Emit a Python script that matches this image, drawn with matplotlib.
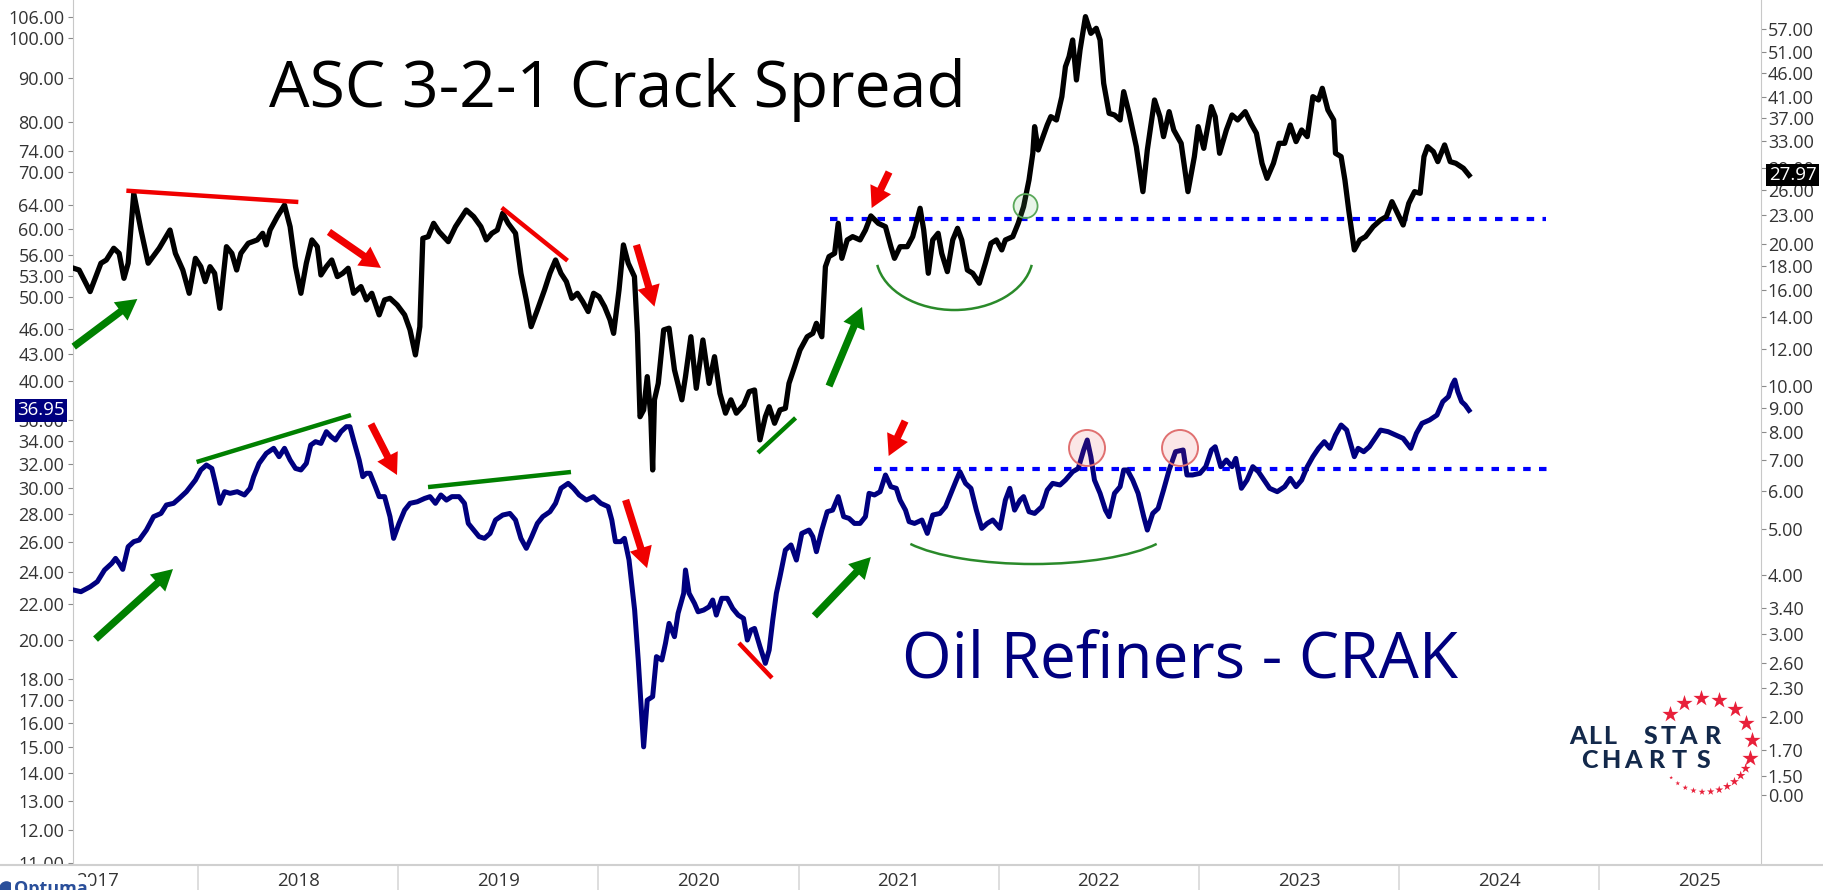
import numpy as np
import matplotlib
matplotlib.use("Agg")
import matplotlib.pyplot as plt
from matplotlib.patches import Arc, Ellipse
from matplotlib.ticker import FixedLocator, FixedFormatter, NullLocator

plt.rcParams['font.family'] = ['Open Sans', 'DejaVu Sans']

# ASC 3-2-1 crack spread (right axis), decimal years
crack_t = [2017.379, 2017.406, 2017.461, 2017.515, 2017.542, 2017.579, 2017.606, 2017.630, 2017.651, 2017.679,
           2017.715, 2017.751, 2017.806, 2017.860, 2017.887, 2017.924, 2017.956, 2017.987, 2018.014, 2018.036,
           2018.060, 2018.083, 2018.109, 2018.142, 2018.169, 2018.193, 2018.214, 2018.251, 2018.296, 2018.323,
           2018.341, 2018.360, 2018.396, 2018.432, 2018.460, 2018.487, 2018.514, 2018.541, 2018.569, 2018.596,
           2018.614, 2018.641, 2018.668, 2018.696, 2018.723, 2018.750, 2018.777, 2018.814, 2018.841, 2018.868,
           2018.905, 2018.932, 2018.959, 2018.995, 2019.032, 2019.059, 2019.086, 2019.108, 2019.123, 2019.150,
           2019.177, 2019.204, 2019.250, 2019.286, 2019.340, 2019.377, 2019.413, 2019.440, 2019.468, 2019.495,
           2019.522, 2019.549, 2019.586, 2019.613, 2019.640, 2019.664, 2019.695, 2019.731, 2019.758, 2019.786,
           2019.813, 2019.840, 2019.867, 2019.895, 2019.922, 2019.949, 2019.976, 2020.003, 2020.031, 2020.058,
           2020.076, 2020.103, 2020.125, 2020.149, 2020.180, 2020.195, 2020.208, 2020.226, 2020.244, 2020.262,
           2020.271, 2020.280, 2020.299, 2020.326, 2020.353, 2020.380, 2020.417, 2020.435, 2020.462, 2020.489,
           2020.522, 2020.553, 2020.580, 2020.607, 2020.635, 2020.662, 2020.689, 2020.726, 2020.753, 2020.780,
           2020.807, 2020.834, 2020.853, 2020.880, 2020.907, 2020.934, 2020.952, 2020.980, 2021.007, 2021.043,
           2021.071, 2021.089, 2021.116, 2021.134, 2021.152, 2021.180, 2021.198, 2021.216, 2021.243, 2021.270,
           2021.307, 2021.334, 2021.361, 2021.398, 2021.434, 2021.461, 2021.479, 2021.507, 2021.543, 2021.570,
           2021.607, 2021.625, 2021.648, 2021.670, 2021.697, 2021.715, 2021.743, 2021.770, 2021.794, 2021.815,
           2021.843, 2021.870, 2021.903, 2021.933, 2021.961, 2021.988, 2022.015, 2022.033, 2022.070, 2022.097,
           2022.124, 2022.151, 2022.170, 2022.179, 2022.197, 2022.215, 2022.242, 2022.260, 2022.288, 2022.315,
           2022.333, 2022.351, 2022.369, 2022.388, 2022.406, 2022.433, 2022.460, 2022.487, 2022.506, 2022.524,
           2022.551, 2022.578, 2022.606, 2022.624, 2022.651, 2022.687, 2022.720, 2022.742, 2022.778, 2022.805,
           2022.823, 2022.851, 2022.874, 2022.911, 2022.945, 2022.977, 2022.996, 2023.024, 2023.062, 2023.081,
           2023.103, 2023.137, 2023.165, 2023.193, 2023.231, 2023.259, 2023.287, 2023.315, 2023.340, 2023.372,
           2023.400, 2023.428, 2023.456, 2023.485, 2023.513, 2023.541, 2023.569, 2023.597, 2023.616, 2023.644,
           2023.673, 2023.682, 2023.710, 2023.729, 2023.748, 2023.776, 2023.804, 2023.832, 2023.870, 2023.907,
           2023.936, 2023.964, 2023.992, 2024.020, 2024.048, 2024.077, 2024.105, 2024.124, 2024.142, 2024.171,
           2024.193, 2024.227, 2024.255, 2024.283, 2024.321, 2024.349]
crack_v = [17.78, 17.63, 15.87, 18.22, 18.51, 19.60, 19.12, 16.93, 18.22, 25.61,
           21.42, 18.22, 19.60, 21.42, 19.12, 17.63, 15.74, 18.66, 17.92, 16.66,
           17.92, 17.35, 14.63, 19.75, 19.12, 17.63, 19.12, 20.08, 20.41, 21.08,
           19.92, 21.42, 22.86, 24.19, 21.77, 17.92, 15.74, 18.22, 20.41, 19.75,
           17.21, 17.92, 18.51, 17.07, 17.35, 17.78, 15.74, 16.26, 15.24, 15.74,
           14.17, 15.24, 15.36, 14.87, 14.17, 13.17, 11.66, 13.38, 20.57, 20.74,
           22.13, 21.25, 20.24, 21.77, 23.61, 22.86, 21.77, 20.41, 21.08, 21.42,
           23.24, 22.13, 21.08, 17.35, 15.24, 13.38, 14.51, 16.00, 17.35, 18.51,
           17.35, 16.66, 15.36, 15.74, 15.11, 14.40, 15.74, 15.49, 14.75, 13.83,
           12.95, 16.00, 19.92, 18.22, 17.07, 12.95, 8.63, 8.92, 10.49, 8.63,
           6.66, 9.37, 10.15, 13.17, 13.28, 10.84, 9.37, 10.49, 12.74, 9.91,
           12.54, 10.15, 11.56, 9.67, 8.78, 9.37, 8.78, 9.14, 9.75, 9.83,
           7.71, 8.63, 9.06, 8.36, 8.92, 8.99, 10.15, 11.01, 11.94, 12.74,
           12.95, 13.60, 12.74, 17.92, 18.82, 19.12, 22.13, 18.66, 20.41, 20.74,
           20.41, 21.42, 22.94, 22.13, 21.77, 19.75, 18.66, 19.75, 19.75, 20.74,
           23.81, 21.42, 17.35, 20.41, 21.08, 19.12, 17.49, 20.41, 21.60, 20.41,
           17.63, 17.35, 16.53, 18.22, 20.08, 20.41, 19.44, 20.41, 20.74, 22.13,
           24.00, 27.33, 31.12, 35.43, 31.63, 33.20, 35.72, 37.20, 36.60, 41.00,
           47.45, 49.82, 54.03, 44.47, 51.47, 60.53, 55.81, 57.19, 54.03, 43.75,
           37.81, 37.50, 36.60, 42.01, 37.81, 32.14, 25.82, 31.63, 40.34, 37.20,
           33.75, 38.11, 34.86, 32.67, 25.82, 30.62, 35.43, 31.88, 39.06, 37.20,
           31.12, 34.86, 37.50, 36.60, 38.11, 36.01, 34.30, 29.64, 27.55, 29.64,
           32.67, 32.67, 35.72, 32.94, 34.86, 33.75, 41.00, 40.34, 42.70, 38.43,
           36.60, 31.12, 30.62, 27.33, 23.61, 19.44, 20.41, 20.74, 21.77, 22.49,
           22.86, 24.59, 23.24, 21.95, 24.39, 25.82, 25.61, 30.62, 32.14, 31.37,
           29.88, 32.41, 29.88, 29.64, 28.93, 27.97]

# Oil Refiners ETF CRAK (left axis)
crak_t = [2017.379, 2017.415, 2017.461, 2017.497, 2017.533, 2017.569, 2017.588, 2017.606, 2017.624, 2017.651,
          2017.679, 2017.706, 2017.742, 2017.778, 2017.815, 2017.842, 2017.878, 2017.906, 2017.942, 2017.987,
          2018.014, 2018.042, 2018.069, 2018.087, 2018.109, 2018.133, 2018.160, 2018.196, 2018.232, 2018.260,
          2018.278, 2018.305, 2018.341, 2018.378, 2018.405, 2018.432, 2018.460, 2018.487, 2018.514, 2018.541,
          2018.563, 2018.587, 2018.614, 2018.641, 2018.665, 2018.687, 2018.714, 2018.741, 2018.759, 2018.777,
          2018.805, 2018.823, 2018.841, 2018.859, 2018.886, 2018.905, 2018.932, 2018.959, 2018.977, 2019.004,
          2019.032, 2019.059, 2019.095, 2019.132, 2019.159, 2019.186, 2019.213, 2019.241, 2019.268, 2019.304,
          2019.331, 2019.350, 2019.377, 2019.404, 2019.431, 2019.459, 2019.486, 2019.522, 2019.558, 2019.586,
          2019.613, 2019.640, 2019.667, 2019.695, 2019.722, 2019.758, 2019.786, 2019.813, 2019.849, 2019.876,
          2019.904, 2019.940, 2019.976, 2020.012, 2020.049, 2020.067, 2020.085, 2020.112, 2020.130, 2020.153,
          2020.181, 2020.199, 2020.226, 2020.244, 2020.271, 2020.290, 2020.317, 2020.335, 2020.353, 2020.380,
          2020.398, 2020.426, 2020.435, 2020.453, 2020.480, 2020.498, 2020.526, 2020.553, 2020.571, 2020.589,
          2020.616, 2020.644, 2020.671, 2020.698, 2020.725, 2020.744, 2020.762, 2020.780, 2020.807, 2020.834,
          2020.853, 2020.871, 2020.889, 2020.907, 2020.934, 2020.962, 2020.989, 2021.016, 2021.052, 2021.071,
          2021.089, 2021.116, 2021.143, 2021.170, 2021.198, 2021.225, 2021.252, 2021.279, 2021.307, 2021.334,
          2021.352, 2021.379, 2021.407, 2021.434, 2021.461, 2021.488, 2021.507, 2021.534, 2021.552, 2021.579,
          2021.616, 2021.643, 2021.670, 2021.706, 2021.734, 2021.761, 2021.788, 2021.806, 2021.834, 2021.861,
          2021.888, 2021.915, 2021.942, 2021.970, 2022.006, 2022.033, 2022.055, 2022.079, 2022.106, 2022.124,
          2022.151, 2022.179, 2022.215, 2022.242, 2022.269, 2022.306, 2022.333, 2022.369, 2022.397, 2022.424,
          2022.442, 2022.460, 2022.478, 2022.506, 2022.533, 2022.551, 2022.578, 2022.606, 2022.624, 2022.642,
          2022.669, 2022.696, 2022.724, 2022.742, 2022.769, 2022.796, 2022.823, 2022.851, 2022.883, 2022.921,
          2022.940, 2022.968, 2023.005, 2023.034, 2023.062, 2023.081, 2023.109, 2023.137, 2023.165, 2023.184,
          2023.212, 2023.240, 2023.269, 2023.297, 2023.325, 2023.353, 2023.391, 2023.428, 2023.456, 2023.485,
          2023.513, 2023.541, 2023.569, 2023.597, 2023.626, 2023.654, 2023.682, 2023.710, 2023.738, 2023.757,
          2023.776, 2023.795, 2023.823, 2023.851, 2023.879, 2023.907, 2023.945, 2023.983, 2024.020, 2024.058,
          2024.086, 2024.114, 2024.152, 2024.189, 2024.218, 2024.246, 2024.265, 2024.278, 2024.293, 2024.312,
          2024.330, 2024.349]
crak_v = [22.84, 22.74, 23.04, 23.36, 24.10, 24.53, 24.86, 24.53, 24.14, 25.65,
          26.00, 26.11, 26.82, 27.80, 28.04, 28.68, 28.81, 29.19, 29.72, 30.66,
          31.50, 31.92, 31.63, 30.39, 28.81, 29.72, 29.59, 29.72, 29.46, 29.99,
          30.94, 32.06, 32.93, 33.38, 32.64, 33.38, 32.35, 31.63, 31.50, 32.06,
          33.67, 33.98, 33.82, 34.90, 34.43, 34.13, 34.90, 35.37, 35.37, 34.13,
          32.35, 30.94, 31.22, 31.22, 30.12, 29.33, 29.33, 27.80, 26.23, 27.30,
          28.29, 28.81, 28.93, 29.19, 29.33, 28.81, 29.46, 29.06, 29.33, 29.33,
          28.81, 27.30, 26.82, 26.35, 26.23, 26.58, 27.55, 27.92, 28.04, 27.55,
          26.23, 25.54, 26.35, 27.30, 27.80, 28.17, 28.81, 29.99, 30.39, 29.99,
          29.46, 29.06, 29.33, 28.81, 28.55, 27.55, 26.00, 26.00, 26.23, 24.75,
          21.65, 18.94, 15.01, 17.01, 17.17, 19.11, 18.94, 19.80, 20.89, 20.16,
          21.46, 22.64, 24.10, 22.64, 22.04, 21.55, 21.65, 21.84, 22.24, 21.36,
          22.34, 22.34, 21.74, 21.36, 21.17, 19.98, 20.52, 20.61, 19.63, 18.77,
          19.45, 21.08, 22.64, 23.67, 25.42, 25.77, 24.75, 26.58, 26.82, 26.35,
          25.31, 26.82, 28.17, 28.29, 29.33, 27.80, 27.67, 27.30, 27.30, 27.80,
          29.59, 29.46, 29.72, 31.08, 30.12, 29.99, 29.06, 28.29, 27.43, 27.30,
          27.55, 26.58, 27.92, 28.04, 28.55, 29.59, 30.66, 31.35, 30.39, 29.99,
          28.29, 26.94, 27.30, 27.55, 26.94, 29.06, 29.99, 28.29, 29.06, 29.33,
          28.17, 28.04, 28.55, 29.85, 30.39, 30.26, 30.66, 31.35, 31.63, 33.23,
          34.13, 32.64, 30.66, 29.59, 28.29, 27.80, 29.59, 30.12, 31.50, 31.50,
          30.66, 29.59, 27.80, 26.82, 28.04, 28.42, 29.85, 31.50, 33.08, 33.23,
          31.08, 31.08, 31.22, 31.78, 33.23, 33.52, 31.78, 32.35, 31.78, 32.49,
          29.99, 30.66, 31.78, 31.35, 30.66, 29.99, 29.72, 30.12, 30.80, 30.12,
          30.66, 31.78, 32.64, 33.38, 33.98, 33.38, 34.59, 35.53, 35.05, 33.82,
          32.64, 33.38, 33.08, 33.52, 34.28, 35.05, 34.90, 34.59, 34.28, 33.38,
          34.75, 35.69, 36.01, 36.49, 37.82, 38.33, 39.55, 40.08, 38.84, 37.82,
          37.48, 36.95]

CRACK_LAST = "27.97"
CRAK_LAST = "36.95"

# horizontal resistance levels
crack_level = 22.6
crack_level_span = [2021.157, 2024.733]
crak_level = 31.56
crak_level_span = [2021.379, 2024.763]

left_ticks = [106, 100, 90, 80, 74, 70, 64, 60, 56, 53, 50, 46, 43, 40, 36, 34, 32, 30,
              28, 26, 24, 22, 20, 18, 17, 16, 15, 14, 13, 12, 11]
right_ticks = [57, 51, 46, 41, 37, 33, 29, 26, 23, 20, 18, 16, 14, 12, 10, 9, 8, 7, 6, 5,
               4, 3.4, 3.0, 2.6, 2.3, 2.0, 1.7, 1.5, 1.367]
right_labels = ["57.00", "51.00", "46.00", "41.00", "37.00", "33.00", "29.00", "26.00", "23.00",
                "20.00", "18.00", "16.00", "14.00", "12.00", "10.00", "9.00", "8.00", "7.00",
                "6.00", "5.00", "4.00", "3.40", "3.00", "2.60", "2.30", "2.00", "1.70", "1.50", "0.00"]
years = list(range(2017, 2026))

X_MIN, X_MAX = 2017.374, 2025.806
LEFT_LIM = (10.94, 110.85)
RIGHT_LIM = (0.973, 65.64)

# hand-drawn markup: ((x0, y0), (x1, y1))
crack_red_lines = [((2017.642, 25.94), (2018.501, 24.55)), ((2019.517, 23.88), (2019.846, 18.45))]
crack_green_lines = [((2020.797, 7.24), (2020.985, 8.58))]
crack_red_arrows = [((2018.654, 21.22), (2018.914, 17.81)), ((2020.190, 19.92), (2020.280, 14.75)),
                    ((2021.452, 28.41), (2021.365, 23.84))]
crack_green_arrows = [((2017.379, 12.14), (2017.697, 15.31)), ((2021.152, 10.02), (2021.317, 14.73))]
crak_green_lines = [((2017.993, 32.18), (2018.764, 36.49)), ((2019.149, 30.09), (2019.863, 31.33))]
crak_red_lines = [((2020.702, 19.82), (2020.867, 18.05))]
crak_red_arrows = [((2018.864, 35.63), (2018.994, 31.08)), ((2020.136, 29.07), (2020.243, 24.22)),
                   ((2021.532, 35.91), (2021.450, 32.70))]
crak_green_arrows = [((2017.488, 20.03), (2017.875, 24.16)), ((2021.079, 21.31), (2021.361, 24.95))]

RED = '#f00000'
GREEN = '#008000'
NAVY = '#00007f'

W, H = 1824, 890
fig = plt.figure(figsize=(W / 100, H / 100), dpi=100)
fig.patch.set_facecolor('white')
ax = fig.add_axes([72.7 / W, 25 / H, 1688 / W, 865 / H])
ax2 = ax.twinx()

for a in (ax, ax2):
    a.set_yscale('log')
    a.set_xlim(X_MIN, X_MAX)
    a.tick_params(axis='x', bottom=False, labelbottom=False)
    for s in a.spines.values():
        s.set_visible(False)
ax.spines['left'].set_visible(True)
ax.spines['left'].set_color('#c8c8c8')
ax2.spines['right'].set_visible(True)
ax2.spines['right'].set_color('#c8c8c8')

ax.set_ylim(*LEFT_LIM)
ax.yaxis.set_major_locator(FixedLocator(left_ticks))
ax.yaxis.set_major_formatter(FixedFormatter([f"{t:.2f}" for t in left_ticks]))
ax.yaxis.set_minor_locator(NullLocator())
ax.tick_params(axis='y', direction='out', length=3.6, width=0.8, color='#8a8a8a',
               labelsize=13, labelcolor='#333333', pad=2.5)

ax2.set_ylim(*RIGHT_LIM)
ax2.yaxis.set_major_locator(FixedLocator(right_ticks))
ax2.yaxis.set_major_formatter(FixedFormatter(right_labels))
ax2.yaxis.set_minor_locator(NullLocator())
ax2.tick_params(axis='y', direction='out', length=3.6, width=0.8, color='#8a8a8a',
                labelsize=13, labelcolor='#333333', pad=1.5)

# series
ax.plot(crak_t, crak_v, color=NAVY, lw=3.6, solid_joinstyle='round', zorder=3)
ax2.plot(crack_t, crack_v, color='black', lw=3.8, solid_joinstyle='round', zorder=3)

# dotted levels
ax2.plot(crack_level_span, [crack_level] * 2, color='#0000ff', lw=3,
         linestyle=(0, (1.8, 2.0)), zorder=2)
ax.plot(crak_level_span, [crak_level] * 2, color='#0000ff', lw=3,
        linestyle=(0, (1.8, 2.0)), zorder=2)


def draw_lines(a, segs, color):
    for (x0, y0), (x1, y1) in segs:
        a.plot([x0, x1], [y0, y1], color=color, lw=3.2, solid_capstyle='butt', zorder=4)


def draw_arrows(a, segs, color):
    for tail, head in segs:
        a.annotate('', xy=head, xytext=tail,
                   arrowprops=dict(arrowstyle='simple,head_length=1.0,head_width=1.1,tail_width=0.35',
                                   color=color, lw=0, mutation_scale=15, shrinkA=0, shrinkB=0),
                   zorder=4)


draw_lines(ax2, crack_red_lines, RED)
draw_lines(ax2, crack_green_lines, GREEN)
draw_arrows(ax2, crack_red_arrows, RED)
draw_arrows(ax2, crack_green_arrows, GREEN)
draw_lines(ax, crak_green_lines, GREEN)
draw_lines(ax, crak_red_lines, RED)
draw_arrows(ax, crak_red_arrows, RED)
draw_arrows(ax, crak_green_arrows, GREEN)

# rounding-bottom arcs and highlight circles (axes fraction)
for cx, cy, w, h, t1, t2 in [(0.5224, 0.7052, 0.0930, 0.1272, 194, 346),
                             (0.5692, 0.3942, 0.1682, 0.0925, 197.5, 342.5)]:
    ax2.add_patch(Arc((cx, cy), w, h, theta1=t1, theta2=t2, transform=ax2.transAxes,
                      color='#2a8a2a', lw=1.8, zorder=4))
ax2.add_patch(Ellipse((0.5645, 0.7618), 0.01422, 0.02775, transform=ax2.transAxes,
                      fc=(0.4, 0.75, 0.4, 0.15), ec='#5aa85a', lw=1.3, zorder=5))
for cx in (0.6009, 0.6560):
    ax2.add_patch(Ellipse((cx, 0.4821), 0.02133, 0.04162, transform=ax2.transAxes,
                          fc=(0.9, 0.3, 0.3, 0.13), ec='#e07070', lw=1.4, zorder=5))

# titles
ax2.text(0.1163, 0.8763, "ASC 3-2-1 Crack Spread", transform=ax2.transAxes, fontsize=46.3,
         color='black', ha='left', va='baseline')
ax2.text(0.4913, 0.2173, "Oil Refiners - CRAK", transform=ax2.transAxes, fontsize=46,
         color=NAVY, ha='left', va='baseline')

# last value tags
ax.annotate(CRAK_LAST, xy=(0, float(CRAK_LAST)), xycoords=('axes fraction', 'data'),
            xytext=(-8, 0), textcoords='offset pixels', ha='right', va='center',
            color='white', fontsize=13.5, annotation_clip=False, zorder=10,
            bbox=dict(boxstyle='square,pad=0.12', fc=NAVY, ec='none'))
ax2.annotate(CRACK_LAST, xy=(1, float(CRACK_LAST)), xycoords=('axes fraction', 'data'),
             xytext=(8, 0), textcoords='offset pixels', ha='left', va='center',
             color='white', fontsize=13.5, annotation_clip=False, zorder=10,
             bbox=dict(boxstyle='square,pad=0.12', fc='black', ec='none'))

# date strip along the bottom
ppy = 1688 / (X_MAX - X_MIN)
pan = fig.add_axes([0, 0, 1, 25 / H])
pan.set_zorder(5)
pan.set_xlim(X_MIN - 72.7 / ppy, X_MAX + (W - 1760.7) / ppy)
pan.set_ylim(0, 1)
pan.set_xticks([])
pan.set_yticks([])
for k, s in pan.spines.items():
    s.set_visible(k == 'top')
pan.spines['top'].set_color('#d0d0d0')
pan.spines['top'].set_linewidth(1.5)
for y in years[1:]:
    pan.axvline(y, color='#d8d8d8', lw=1.2)
for y in years:
    pan.text(y + 0.5, 0.38, str(y), ha='center', va='center', fontsize=13.5, color='#333333')
pan.text(14 / W, 0.42, "Optuma", transform=pan.transAxes, ha='left', va='top', fontsize=13,
         fontweight='bold', color='#2a4f9a',
         bbox=dict(boxstyle='square,pad=0.15', fc='white', ec='none'))
pan.scatter([6 / W], [0.1], s=90, color='#2a4f9a', transform=pan.transAxes, clip_on=False)

# All Star Charts badge (pixel coordinates)
lg = fig.add_axes([1560 / W, (H - 800) / H, 200 / W, 110 / H])
lg.set_zorder(6)
lg.set_xlim(1560, 1760)
lg.set_ylim(800, 690)
lg.axis('off')
for ch, x in zip("ALLSTAR", [1578, 1595, 1609.5, 1650, 1668, 1687.5, 1712]):
    lg.text(x, 736, ch, ha='center', va='center', fontsize=18,
            fontweight='black', family='Lato', color='#13294b')
for ch, x in zip("CHARTS", [1589, 1611, 1633, 1656, 1679, 1703]):
    lg.text(x, 761, ch, ha='center', va='center', fontsize=18,
            fontweight='black', family='Lato', color='#13294b')
big = np.radians(np.linspace(139, -16, 8))
lg.scatter(1705 + 47 * np.cos(big), 745 - 47 * np.sin(big), marker='*', s=150,
           color='#e8203a', linewidths=0)
small = np.radians(np.linspace(-30, -136, 11))
lg.scatter(1705 + 47 * np.cos(small), 745 - 47 * np.sin(small), marker='*',
           s=np.linspace(55, 8, 11), color='#e8203a', linewidths=0)

fig.savefig('out.png', dpi=100, facecolor='white')
